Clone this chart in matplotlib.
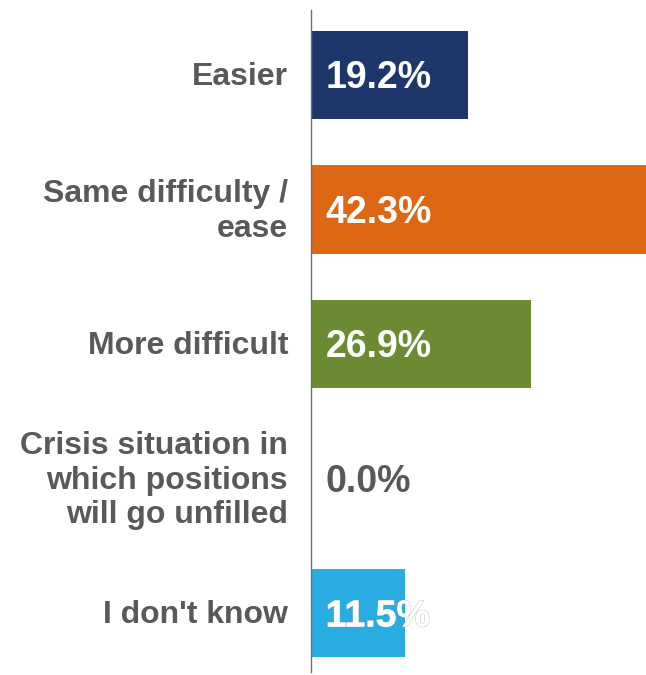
import matplotlib
matplotlib.use("Agg")
import matplotlib.pyplot as plt
import matplotlib.patheffects as pe

categories = ["Easier", "Same difficulty /\nease", "More difficult",
              "Crisis situation in\nwhich positions\nwill go unfilled", "I don't know"]
values = [19.2, 42.3, 26.9, 0.0, 11.5]
colors = ["#1E376B", "#DC6714", "#6A8B31", "#FFFFFF", "#29ACE1"]
value_labels = ["19.2%", "42.3%", "26.9%", "0.0%", "11.5%"]

plt.rcParams['font.family'] = ['Liberation Sans', 'DejaVu Sans']

fig = plt.figure(figsize=(6.46, 6.75), dpi=100)
W, H = 646, 675
ax = fig.add_axes([311 / W, 1 - 672 / H, (W - 311) / W, (672 - 10) / H])

y = list(range(len(categories)))
ax.barh(y, values, height=0.655, color=colors, zorder=2)
ax.set_xlim(0, 335 / 8.17)
ax.set_ylim(4 + (672 - 613) / 134.5, -(75 - 10) / 134.5)

for s in ["top", "right", "bottom"]:
    ax.spines[s].set_visible(False)
ax.spines["left"].set_color("#707070")
ax.spines["left"].set_linewidth(1.0)
ax.set_xticks([])
ax.set_yticks([])

for yi, cat in zip(y, categories):
    ax.annotate(cat, xy=(0, yi), xycoords="data", xytext=(-16.5, -1.5), textcoords="offset points",
                ha="right", va="center", fontsize=23, fontweight="bold", color="#595959",
                linespacing=1.21, annotation_clip=False)

for yi, v, lab in zip(y, values, value_labels):
    if v > 0:
        t = ax.annotate(lab, xy=(0, yi), xytext=(10.5, -2.5), textcoords="offset points",
                        ha="left", va="center", fontsize=27, fontweight="bold", color="white",
                        zorder=3, annotation_clip=False)
        if v < 15:
            t.set_path_effects([pe.withStroke(linewidth=0.8, foreground="#bdbdbd"), pe.Normal()])
    else:
        ax.annotate(lab, xy=(0, yi), xytext=(10.5, -2.5), textcoords="offset points",
                    ha="left", va="center", fontsize=27, fontweight="bold", color="#595959",
                    zorder=3, annotation_clip=False)

fig.savefig("out.png", dpi=100)
